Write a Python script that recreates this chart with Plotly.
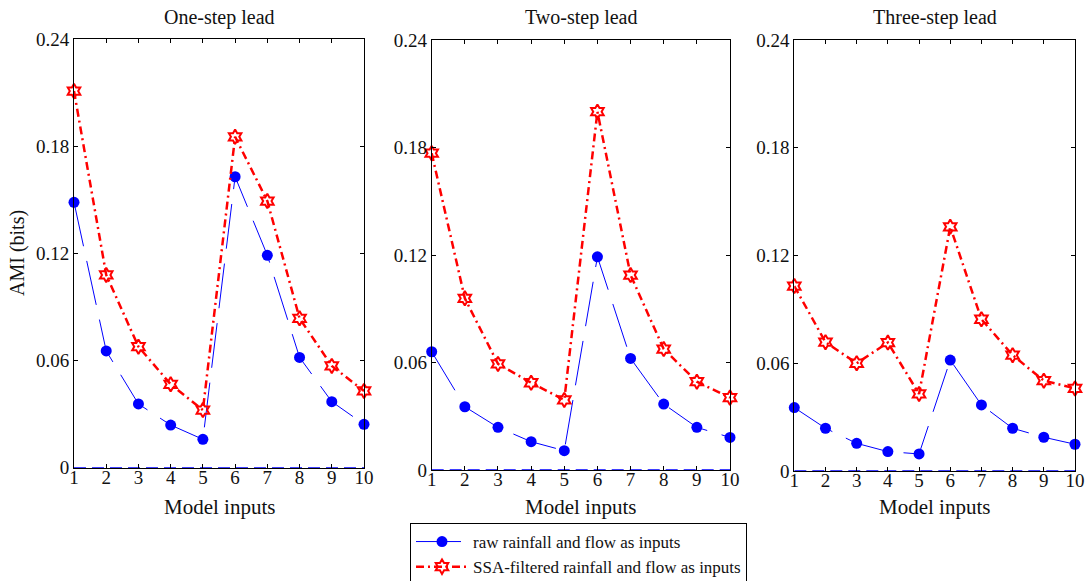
import plotly.graph_objects as go

model_inputs = [1, 2, 3, 4, 5, 6, 7, 8, 9, 10]
panel_titles = ["One-step lead", "Two-step lead", "Three-step lead"]

raw_one = [0.1487, 0.0654, 0.0357, 0.0239, 0.0159, 0.163, 0.119, 0.0618, 0.037, 0.0243]
ssa_one = [0.211, 0.108, 0.0678, 0.0467, 0.0323, 0.1854, 0.1494, 0.0837, 0.057, 0.043]

raw_two = [0.066, 0.0353, 0.0238, 0.0158, 0.0108, 0.119, 0.0623, 0.0368, 0.0238, 0.0182]
ssa_two = [0.1768, 0.0958, 0.0592, 0.0487, 0.0391, 0.200, 0.1088, 0.0675, 0.0493, 0.0404]

raw_three = [0.0353, 0.0238, 0.0154, 0.0108, 0.0095, 0.0618, 0.0368, 0.0238, 0.0188, 0.0149]
ssa_three = [0.103, 0.0717, 0.060, 0.0715, 0.0429, 0.136, 0.0845, 0.0645, 0.0503, 0.046]

zero_line = [0] * 10

y_ticks = [0, 0.06, 0.12, 0.18, 0.24]
y_tick_labels = ["0", "0.06", "0.12", "0.18", "0.24"]

raw_name = "raw rainfall and flow as inputs"
ssa_name = "SSA-filtered rainfall and flow as inputs"

W, H = 1091, 581
FONT = "Liberation Serif, Times New Roman, serif"
TXT = "#111111"

# pixel boxes (left, right, top, bottom)
boxes = [(74, 364, 39.3, 467.7), (431.7, 730, 40, 470), (794.3, 1075, 40, 471)]
series = [(raw_one, ssa_one), (raw_two, ssa_two), (raw_three, ssa_three)]

fig = go.Figure()
layout = dict(
    width=W, height=H,
    margin=dict(l=0, r=0, t=0, b=0, autoexpand=False),
    paper_bgcolor="white", plot_bgcolor="white",
    font=dict(family=FONT, size=19, color=TXT),
    showlegend=True,
    legend=dict(
        x=410 / W, y=1 - 523 / H, xanchor="left", yanchor="top",
        bordercolor="black", borderwidth=1, bgcolor="white",
        font=dict(family=FONT, size=17, color=TXT),
        tracegroupgap=0, itemwidth=52,
    ),
    annotations=[],
)

for i, ((raw, ssa), (l, r, t, b)) in enumerate(zip(series, boxes)):
    idx = "" if i == 0 else str(i + 1)
    xa, ya = "x" + idx, "y" + idx
    fig.add_trace(go.Scatter(
        x=model_inputs, y=zero_line, xaxis=xa, yaxis=ya, mode="lines",
        line=dict(color="blue", width=1.5, dash="12px,6px"),
        showlegend=False, hoverinfo="skip", cliponaxis=False,
    ))
    fig.add_trace(go.Scatter(
        x=model_inputs, y=raw, xaxis=xa, yaxis=ya, mode="lines+markers",
        name=raw_name, legendgroup="raw", showlegend=(i == 0),
        line=dict(color="blue", width=1, dash="45px,15px"),
        marker=dict(symbol="circle", size=11, color="blue"),
        cliponaxis=False,
    ))
    fig.add_trace(go.Scatter(
        x=model_inputs, y=ssa, xaxis=xa, yaxis=ya, mode="lines+markers",
        name=ssa_name, legendgroup="ssa", showlegend=(i == 0),
        line=dict(color="red", width=2.5, dash="8px,4px,2px,4px"),
        marker=dict(symbol="hexagram-open", size=11, color="red",
                    line=dict(color="red", width=2)),
        cliponaxis=False,
    ))
    layout["xaxis" + idx] = dict(
        domain=[l / W, r / W], anchor=ya, range=[1, 10],
        tickmode="array", tickvals=model_inputs,
        ticks="inside", ticklen=4, tickcolor="black", tickwidth=1,
        showline=True, linecolor="black", linewidth=1, mirror="ticks",
        showgrid=False, zeroline=False, automargin=False,
        ticklabelstandoff=-8,
        tickfont=dict(family=FONT, size=19, color=TXT),
    )
    layout["yaxis" + idx] = dict(
        domain=[1 - b / H, 1 - t / H], anchor=xa, range=[0, 0.24],
        tickmode="array", tickvals=y_ticks, ticktext=y_tick_labels,
        ticks="inside", ticklen=4, tickcolor="black", tickwidth=1,
        showline=True, linecolor="black", linewidth=1, mirror="ticks",
        showgrid=False, zeroline=False, automargin=False,
        tickfont=dict(family=FONT, size=19, color=TXT),
    )
    cx = (l + r) / 2 / W
    layout["annotations"].append(dict(
        text=panel_titles[i], x=cx, y=1 - 18 / H, xref="paper", yref="paper",
        xanchor="center", yanchor="middle", showarrow=False,
        font=dict(family=FONT, size=20, color=TXT),
    ))
    layout["annotations"].append(dict(
        text="Model inputs", x=cx, y=1 - 507 / H, xref="paper", yref="paper",
        xanchor="center", yanchor="middle", showarrow=False,
        font=dict(family=FONT, size=21, color=TXT),
    ))

layout["annotations"].append(dict(
    text="AMI (bits)", x=18 / W, y=1 - 253 / H, xref="paper", yref="paper",
    xanchor="center", yanchor="middle", showarrow=False, textangle=-90,
    font=dict(family=FONT, size=20, color=TXT),
))

fig.update_layout(**layout)
fig.write_html(
    "out.html",
    config={"displayModeBar": False},
    post_script=(
        "document.body.style.margin='0px';"
        "document.body.style.padding='0px';"
        "document.body.style.overflow='hidden';"
    ),
)
